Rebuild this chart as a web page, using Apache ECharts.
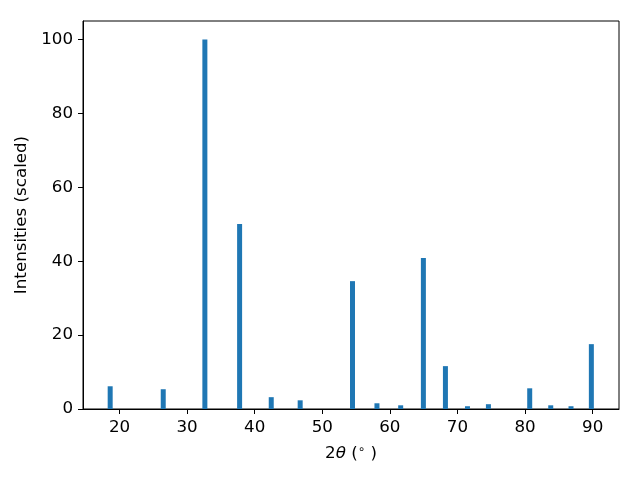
<!DOCTYPE html>
<html>
<head>
<meta charset="utf-8">
<script src="https://cdn.jsdelivr.net/npm/echarts@6/dist/echarts.min.js"></script>
<style>html,body{margin:0;padding:0;background:#fff}#c{width:640px;height:480px}</style>
</head>
<body>
<div id="c"></div>
<script>
const twoTheta = [18.62, 26.47, 32.63, 37.77, 42.45, 46.73, 54.47, 58.09, 61.6, 64.96, 68.22, 71.48, 74.58, 80.69, 83.8, 86.8, 89.81];
const intensity = [6.15, 5.35, 100, 50.05, 3.2, 2.35, 34.6, 1.55, 1.0, 40.85, 11.6, 0.75, 1.3, 5.6, 1.0, 0.75, 17.55];
const xTicks = [20, 30, 40, 50, 60, 70, 80, 90];
const yTicks = [0, 20, 40, 60, 80, 100];

const font = 'DejaVu Sans';
const fs = 16.7;
const chart = echarts.init(document.getElementById('c'), null, {renderer: 'canvas'});
chart.setOption({
  animation: false,
  backgroundColor: '#fff',
  grid: {left: 83, right: 21, top: 21, bottom: 71, show: true, borderColor: '#000', borderWidth: 1, containLabel: false},
  xAxis: {
    type: 'value', min: 14.6, max: 93.9, interval: 10,
    axisLine: {show: true, onZero: false, lineStyle: {color: '#000', width: 1}},
    axisTick: {show: true, length: 5, inside: false, lineStyle: {color: '#000'},
      customValues: xTicks},
    axisLabel: {color: '#000', fontFamily: font, fontSize: fs, margin: 10,
      customValues: xTicks},
    splitLine: {show: false},
    name: '{n|2}{i|θ}{n| (}{s|∘}{n| )}',
    nameLocation: 'middle', nameGap: 35,
    nameTextStyle: {rich: {
      n: {fontFamily: font, fontSize: fs, color: '#000'},
      i: {fontFamily: font, fontSize: fs, fontStyle: 'italic', color: '#000'},
      s: {fontFamily: font, fontSize: 12, color: '#000', verticalAlign: 'top', padding: [0, 0, 7, 0]}
    }}
  },
  yAxis: {
    type: 'value', min: 0, max: 105, interval: 20,
    axisLine: {show: true, lineStyle: {color: '#000', width: 1}},
    axisTick: {show: true, length: 5, lineStyle: {color: '#000'}, customValues: yTicks},
    axisLabel: {color: '#000', fontFamily: font, fontSize: fs, margin: 10, customValues: yTicks},
    splitLine: {show: false},
    name: 'Intensities (scaled)', nameLocation: 'middle', nameGap: 46,
    nameTextStyle: {fontFamily: font, fontSize: fs, color: '#000'}
  },
  series: [{
    type: 'bar',
    data: twoTheta.map((x, i) => [x, intensity[i]]),
    barWidth: 5,
    itemStyle: {color: '#1f77b4'}
  }]
});
</script>
</body>
</html>
